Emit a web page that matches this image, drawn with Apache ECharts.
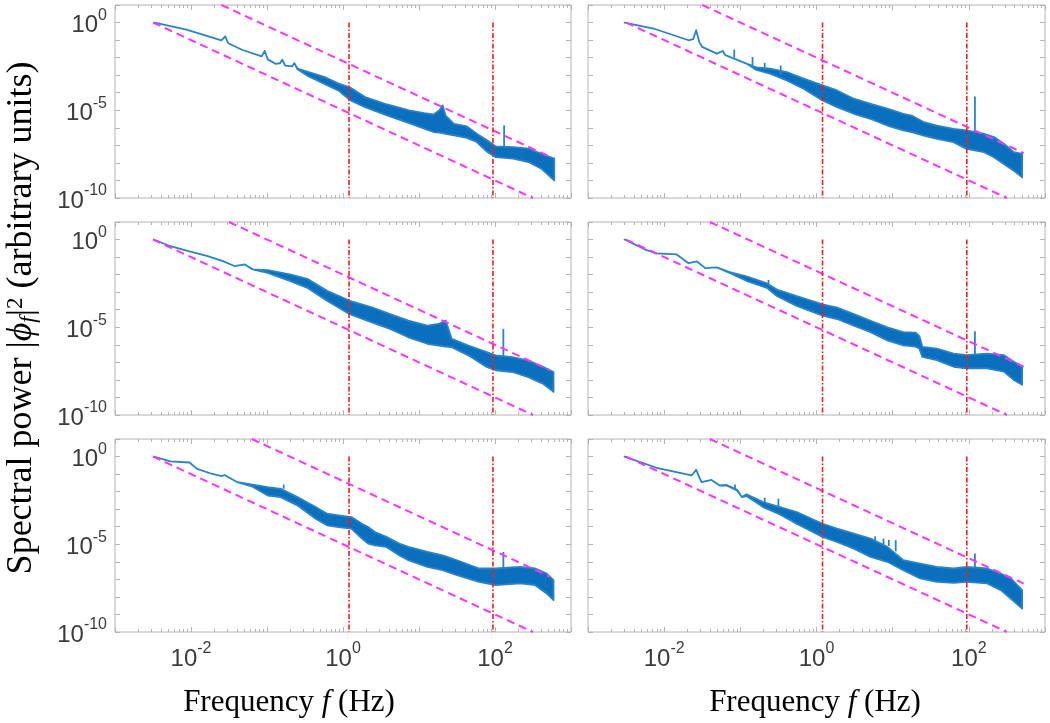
<!DOCTYPE html>
<html><head><meta charset="utf-8">
<script src="https://cdn.jsdelivr.net/npm/echarts@6/dist/echarts.min.js"></script>
<style>html,body{margin:0;padding:0;background:#fff}#c{width:1050px;height:723px}</style>
</head><body><div id="c"></div>
<script>
// ---------- DATA (log10 values) ----------
// band rows: [log10 f, log10 upper envelope, log10 lower envelope]
const tlBand = [[-2.48,0,0],[-2.06,-0.40,-0.40],[-1.60,-1.02,-1.02],[-1.55,-0.79,-0.79],[-1.51,-1.18,-1.18],
 [-1.33,-1.55,-1.55],[-1.07,-1.93,-1.93],[-1.03,-1.62,-1.62],[-0.99,-2.1,-2.1],[-0.89,-2.35,-2.35],
 [-0.83,-2.32,-2.32],[-0.80,-2.12,-2.12],[-0.76,-2.45,-2.45],[-0.67,-2.5,-2.5],[-0.64,-2.31,-2.31],
 [-0.60,-2.62,-2.66],[-0.45,-2.82,-3.07],[-0.25,-3.1,-3.49],[-0.05,-3.49,-3.9],[0.10,-3.71,-4.44],
 [0.29,-4.25,-4.82],[0.58,-4.67,-5.29],[0.87,-5.0,-5.73],[1.07,-5.16,-6.05],[1.19,-5.24,-6.24],
 [1.27,-5.0,-6.28],[1.31,-4.72,-6.3],[1.35,-5.3,-6.34],[1.46,-5.77,-6.43],[1.63,-5.92,-6.57],
 [1.76,-6.34,-6.81],[1.90,-6.72,-7.38],[2.01,-7.06,-7.67],[2.24,-7.1,-7.76],[2.44,-7.19,-7.95],
 [2.61,-7.48,-8.33],[2.78,-7.76,-9.0]];
const trBand = [[-2.52,0,0],[-2.14,-0.34,-0.34],[-1.68,-1.01,-1.01],[-1.62,-0.95,-0.95],[-1.58,-0.44,-0.44],
 [-1.54,-1.1,-1.1],[-1.50,-1.39,-1.39],[-1.31,-1.77,-1.77],[-1.23,-1.62,-1.62],[-1.20,-1.85,-1.85],
 [-1.14,-1.96,-1.96],[-1.05,-2.11,-2.11],[-0.92,-2.34,-2.34],[-0.79,-2.55,-2.7],[-0.61,-2.63,-2.91],
 [-0.39,-2.82,-3.3],[-0.17,-3.2,-3.77],[0.08,-3.58,-4.44],[0.27,-3.87,-4.82],[0.49,-4.34,-5.2],
 [0.71,-4.63,-5.49],[0.93,-4.91,-5.87],[1.14,-5.2,-6.15],[1.25,-5.3,-6.25],[1.41,-5.68,-6.44],
 [1.58,-5.87,-6.63],[1.80,-6.06,-6.82],[1.97,-6.15,-7.2],[2.20,-6.34,-7.39],[2.33,-6.53,-7.68],
 [2.46,-6.91,-8.06],[2.59,-7.39,-8.44],[2.70,-7.49,-8.82]];
const mlBand = [[-2.49,0,0],[-2.27,-0.38,-0.38],[-2.07,-0.62,-0.62],[-1.78,-0.94,-0.94],[-1.58,-1.23,-1.23],
 [-1.43,-1.51,-1.51],[-1.29,-1.42,-1.42],[-1.19,-1.7,-1.7],[-0.99,-1.74,-1.9],[-0.70,-1.98,-2.36],
 [-0.46,-2.26,-2.77],[-0.21,-2.92,-3.49],[0.09,-3.49,-4.25],[0.38,-3.87,-4.72],[0.62,-4.25,-5.09],
 [0.86,-4.62,-5.57],[1.11,-4.91,-5.94],[1.26,-4.81,-6.04],[1.35,-4.62,-6.1],[1.43,-5.66,-6.13],
 [1.65,-6.04,-6.6],[1.89,-6.42,-7.26],[2.01,-6.6,-7.45],[2.23,-6.7,-7.55],[2.43,-6.89,-7.83],
 [2.63,-7.26,-8.21],[2.77,-7.55,-8.68]];
const mrBand = [[-2.52,0,0],[-2.23,-0.6,-0.6],[-2.10,-0.79,-0.79],[-1.84,-0.84,-0.84],[-1.68,-1.35,-1.35],
 [-1.57,-1.25,-1.25],[-1.46,-1.63,-1.63],[-1.31,-1.59,-1.59],[-1.14,-1.85,-1.9],[-0.92,-2.1,-2.35],
 [-0.65,-2.5,-2.75],[-0.52,-2.85,-3.22],[-0.26,-3.22,-3.78],[0.08,-3.69,-4.34],[0.27,-3.88,-4.53],
 [0.49,-4.25,-4.91],[0.71,-4.63,-5.28],[0.93,-5.0,-5.75],[1.14,-5.28,-6.03],[1.30,-5.3,-6.1],
 [1.35,-5.5,-6.2],[1.39,-6.12,-6.69],[1.58,-6.22,-6.87],[1.80,-6.5,-7.25],[1.97,-6.59,-7.34],
 [2.24,-6.5,-7.34],[2.46,-6.59,-7.53],[2.59,-6.97,-8.0],[2.70,-7.25,-8.28]];
const blBand = [[-2.49,0,0],[-2.27,-0.27,-0.27],[-2.02,-0.34,-0.34],[-1.92,-0.7,-0.7],[-1.73,-0.98,-0.98],
 [-1.60,-1.12,-1.12],[-1.56,-1.05,-1.05],[-1.39,-1.46,-1.46],[-1.19,-1.6,-1.72],[-0.99,-1.74,-2.22],
 [-0.82,-1.84,-2.31],[-0.60,-2.31,-2.78],[-0.36,-2.88,-3.54],[-0.21,-3.26,-3.92],[-0.06,-3.35,-4.02],
 [0.11,-3.45,-4.11],[0.25,-3.83,-4.68],[0.33,-4.02,-4.96],[0.42,-4.3,-5.06],[0.57,-4.58,-5.15],
 [0.74,-4.96,-5.63],[0.86,-5.15,-5.91],[1.11,-5.44,-6.29],[1.31,-5.63,-6.48],[1.50,-5.91,-6.76],
 [1.79,-6.38,-7.14],[2.01,-6.38,-7.33],[2.33,-6.29,-7.23],[2.53,-6.38,-7.33],[2.68,-6.67,-7.8],
 [2.77,-7.05,-8.18]];
const brBand = [[-2.52,0,0],[-2.10,-0.64,-0.64],[-1.64,-1.08,-1.08],[-1.58,-0.76,-0.76],[-1.51,-1.46,-1.46],
 [-1.38,-1.33,-1.33],[-1.27,-1.65,-1.65],[-1.18,-1.62,-1.65],[-1.04,-1.9,-1.95],[-0.98,-2.31,-2.31],
 [-0.92,-2.15,-2.25],[-0.70,-2.6,-2.88],[-0.48,-2.88,-3.3],[-0.26,-3.16,-3.83],[0.08,-3.83,-4.58],
 [0.27,-4.11,-4.87],[0.49,-4.39,-5.25],[0.71,-4.68,-5.72],[0.93,-5.15,-6.0],[1.14,-5.91,-6.48],
 [1.36,-6.1,-6.95],[1.58,-6.29,-7.14],[1.80,-6.38,-7.2],[1.97,-6.29,-7.14],[2.24,-6.38,-7.23],
 [2.42,-6.67,-7.61],[2.55,-6.95,-8.09],[2.70,-7.61,-8.66]];
// narrow spectral lines: [log10 f, log10 base, log10 peak]
const tlSpikes = [[2.12,-7.1,-5.86]];
const trSpikes = [[-1.08,-2.0,-1.54],[-0.84,-2.42,-1.96],[-0.68,-2.7,-2.3],[-0.47,-3.0,-2.45],[2.08,-6.3,-4.21]];
const mlSpikes = [[2.11,-6.65,-5.09]];
const mrSpikes = [[-0.63,-2.6,-2.3],[2.08,-6.55,-5.22]];
const blSpikes = [[-0.78,-1.84,-1.6],[2.11,-6.38,-5.44]];
const brSpikes = [[-1.07,-1.86,-1.6],[-0.68,-2.65,-2.35],[-0.50,-2.9,-2.4],[0.77,-4.8,-4.55],
 [0.88,-5.0,-4.68],[0.95,-5.1,-4.75],[1.04,-5.4,-4.77],[2.08,-6.3,-5.53]];
// guide lines (log10 values)
const lowerGuideFreqExp = [-2.5, 2.5];
const lowerGuidePowExp = [0, -10];
const upperGuideStartFreqExp = [-1.6, -1.5, -1.5, -1.4, -1.2, -1.4];
const upperGuideStartPowExp = [1, 1, 1, 1, 1, 1];
const upperGuideEndFreqExp = [2.72, 2.72, 2.72, 2.72, 2.72, 2.72];
const upperGuideEndPowExp = [-7.64, -7.44, -7.44, -7.24, -6.84, -7.24];
// cutoff frequencies (Hz) and their vertical extent
const cutoffHz = [1.2, 94];
const cutoffPowRange = [1, 1e-10];
// tick labels
const xTickLabels = [1e-2, 1, 1e2];
const yTickLabels = [1e-10, 1e-5, 1];

// ---------- CHART ----------
const P = v => Math.pow(10, v);
const bands = [tlBand, trBand, mlBand, mrBand, blBand, brBand];
const spikes = [tlSpikes, trSpikes, mlSpikes, mrSpikes, blSpikes, brSpikes];
const BLUE = '#0a6fbc';
const EDGE = '#2a82c8';
const AX = '#b4b4b4';
const LBL = '#3c3c3c';
const xMajor = [], xMinor = [], yMajor = [];
for (let d = -3; d <= 3; d++) xMajor.push(P(d));
for (let d = -3; d < 3; d++) for (let m = 2; m <= 9; m++) xMinor.push(m * P(d));
for (let d = -10; d <= 1; d++) yMajor.push(P(d));

const colLeft = [115, 588], colWidth = [456, 457];
const rowTop = [5, 222, 439], H = 193;
const labelRich = {
  b: {fontFamily: 'Liberation Sans', fontSize: 24, color: LBL, lineHeight: 30, verticalAlign: 'bottom'},
  s: {fontFamily: 'Liberation Sans', fontSize: 16, color: LBL, lineHeight: 16, verticalAlign: 'top'}
};
const fmt = v => '{b|10}{s|' + Math.round(Math.log10(v)) + '}';

const grid = [], xAxis = [], yAxis = [], series = [];
for (let i = 0; i < 6; i++) {
  const r = Math.floor(i / 2), c = i % 2;
  grid.push({left: colLeft[c], top: rowTop[r], width: colWidth[c], height: H,
    show: true, borderColor: AX, borderWidth: 1, backgroundColor: '#fff'});
  const xBase = {gridIndex: i, type: 'log', min: 1e-3, max: 1e3, axisLine: {show: false},
    splitLine: {show: false}, minorTick: {show: false}};
  const mk = (pos, vals, len, labels) => Object.assign({}, xBase, {
    position: pos,
    axisTick: {show: true, inside: true, length: len, lineStyle: {color: AX, width: 1}, customValues: vals},
    axisLabel: labels ? {show: true, customValues: xTickLabels, formatter: fmt, rich: labelRich, margin: 9}
                      : {show: false}
  });
  xAxis.push(mk('bottom', xMajor, 5, r === 2));
  xAxis.push(mk('top', xMajor, 5, false));
  xAxis.push(mk('bottom', xMinor, 3, false));
  xAxis.push(mk('top', xMinor, 3, false));
  const yBase = {gridIndex: i, type: 'log', min: 1e-10, max: 10, axisLine: {show: false}, splitLine: {show: false}};
  yAxis.push(Object.assign({}, yBase, {position: 'left',
    axisTick: {show: true, inside: true, length: 5, lineStyle: {color: AX}, customValues: yMajor},
    axisLabel: c === 0 ? {show: true, customValues: yTickLabels, formatter: fmt, rich: labelRich, margin: 8}
                       : {show: false}}));
  yAxis.push(Object.assign({}, yBase, {position: 'right',
    axisTick: {show: true, inside: true, length: 5, lineStyle: {color: AX}, customValues: yMajor},
    axisLabel: {show: false}}));

  const xi = 4 * i, yi = 2 * i;
  const bandData = bands[i].map(q => [P(q[0]), P(q[1]), P(q[2])]);
  series.push({type: 'custom', xAxisIndex: xi, yAxisIndex: yi, silent: true, z: 2,
    encode: {x: 0, y: [1, 2]}, data: bandData,
    renderItem: (params, api) => {
      if (params.dataIndex !== 0) return null;
      const upper = bandData.map(d => api.coord([d[0], d[1]]));
      const lower = bandData.map(d => api.coord([d[0], d[2]])).reverse();
      return {type: 'polygon', shape: {points: upper.concat(lower)},
        style: {fill: BLUE, stroke: EDGE, lineWidth: 1.8, lineJoin: 'round'}};
    }});
  const spikeData = spikes[i].map(q => [P(q[0]), P(q[1]), P(q[2])]);
  series.push({type: 'custom', xAxisIndex: xi, yAxisIndex: yi, silent: true, z: 2,
    encode: {x: 0, y: [1, 2]}, data: spikeData,
    renderItem: (params, api) => {
      const p1 = api.coord([api.value(0), api.value(1)]);
      const p2 = api.coord([api.value(0), api.value(2)]);
      return {type: 'line', shape: {x1: p1[0], y1: p1[1], x2: p2[0], y2: p2[1]},
        style: {stroke: EDGE, lineWidth: 1.8}};
    }});
  const guideStyle = {color: '#ff33ff', width: 2, type: [8, 5]};
  series.push({type: 'line', xAxisIndex: xi, yAxisIndex: yi, silent: true, symbol: 'none', z: 3,
    lineStyle: guideStyle,
    data: lowerGuideFreqExp.map((f, k) => [P(f), P(lowerGuidePowExp[k])])});
  series.push({type: 'line', xAxisIndex: xi, yAxisIndex: yi, silent: true, symbol: 'none', z: 3,
    lineStyle: guideStyle,
    data: [[P(upperGuideStartFreqExp[i]), P(upperGuideStartPowExp[i])],
           [P(upperGuideEndFreqExp[i]), P(upperGuideEndPowExp[i])]]});
  cutoffHz.forEach(fc => {
    series.push({type: 'line', xAxisIndex: xi, yAxisIndex: yi, silent: true, symbol: 'none', z: 4,
      lineStyle: {color: '#ff1a1a', width: 1.6, type: [5, 2, 1.5, 2]},
      data: cutoffPowRange.map(p => [fc, p])});
  });
}

const serif = 'Liberation Serif';
const mkRich = (fs) => ({
  n: {fontFamily: serif, fontSize: fs, color: '#111'},
  i: {fontFamily: serif, fontSize: fs, fontStyle: 'italic', color: '#111'},
  sub: {fontFamily: serif, fontSize: Math.round(fs * 0.65), fontStyle: 'italic', color: '#111',
        verticalAlign: 'bottom', lineHeight: Math.round(fs * 0.55)},
  sup: {fontFamily: serif, fontSize: Math.round(fs * 0.65), color: '#111',
        verticalAlign: 'top', lineHeight: Math.round(fs * 0.55)}
});
const xTitle = '{n|Frequency }{i|f}{n| (Hz)}';
const graphic = [
  {type: 'text', x: 289, y: 703, style: {text: xTitle, rich: mkRich(31), align: 'center', verticalAlign: 'middle'}},
  {type: 'text', x: 815, y: 703, style: {text: xTitle, rich: mkRich(31), align: 'center', verticalAlign: 'middle'}},
  {type: 'text', x: 22, y: 318, rotation: Math.PI / 2,
   style: {text: '{n|Spectral power |}{i|ϕ}{sub|f}{n||}{sup|2}{n| (arbitrary units)}', rich: mkRich(36),
           align: 'center', verticalAlign: 'middle'}}
];

const chart = echarts.init(document.getElementById('c'));
chart.setOption({animation: false, grid, xAxis, yAxis, series, graphic});
</script></body></html>
